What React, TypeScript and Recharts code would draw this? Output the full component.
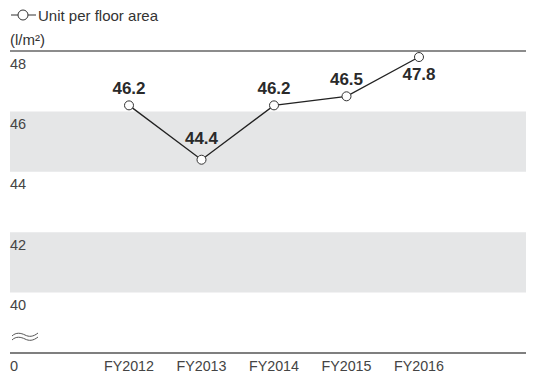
import React from "react";
import { LineChart, Line, XAxis, YAxis, ReferenceArea, ReferenceLine, LabelList } from "recharts";

const categories = ["FY2012", "FY2013", "FY2014", "FY2015", "FY2016"];
const values = [46.2, 44.4, 46.2, 46.5, 47.8];
const yTicks = [38, 40, 42, 44, 46, 48];
const yTickLabels = ["0", "40", "42", "44", "46", "48"];
const bands = [
  [44, 46],
  [40, 42],
];
const seriesName = "Unit per floor area";
const unitLabel = "(l/m\u00b2)";

const data = categories.map((c, i) => ({ pos: i, name: c, value: values[i] }));
const xTicks = categories.map((_, i) => i);

const FONT = "'Liberation Sans', Arial, Helvetica, sans-serif";

const YTick = (props: any) => {
  const { y, payload } = props;
  const idx = yTicks.indexOf(payload.value);
  const label = idx >= 0 ? yTickLabels[idx] : String(payload.value);
  const isZero = idx === 0;
  return (
    <g>
      {isZero && (
        <g fill="none" stroke="#555" strokeWidth={1}>
          <path d={`M12,${y - 17} C16,${y - 21} 21,${y - 20} 25,${y - 18} C29,${y - 16} 33,${y - 16} 38,${y - 20}`} />
          <path d={`M12,${y - 13} C16,${y - 17} 21,${y - 16} 25,${y - 14} C29,${y - 12} 33,${y - 12} 38,${y - 16}`} />
        </g>
      )}
      <text x={10} y={y + 17.5} textAnchor="start" fontSize={14.5} fill="#444" fontFamily={FONT}>
        {label}
      </text>
    </g>
  );
};

const XTick = (props: any) => {
  const { x, y, payload } = props;
  return (
    <text x={x} y={y + 10} textAnchor="middle" fontSize={14.3} fill="#444" fontFamily={FONT}>
      {categories[payload.value]}
    </text>
  );
};

const DataLabel = (props: any) => {
  const { x, y, value, index } = props;
  const last = index === values.length - 1;
  const dy = last ? 23 : index === 1 ? -16 : -11;
  return (
    <text x={x} y={y + dy} textAnchor="middle" fontSize={17} fontWeight="bold" fill="#2a2a2a" fontFamily={FONT}>
      {Number(value).toFixed(1)}
    </text>
  );
};

export default function App() {
  return (
    <div style={{ position: "absolute", left: 0, top: 0, width: 539, height: 374, fontFamily: FONT, background: "#fff" }}>
      <div style={{ position: "absolute", left: 10, top: 5, display: "flex", alignItems: "center", fontSize: 15, color: "#333" }}>
        <svg width={28} height={20} style={{ display: "block" }}>
          <line x1={1} y1={10} x2={26} y2={10} stroke="#333" strokeWidth={1} />
          <circle cx={13} cy={10} r={5} fill="#fff" stroke="#333" strokeWidth={1} />
        </svg>
        <span>{seriesName}</span>
      </div>
      <div style={{ position: "absolute", left: 10, top: 31, fontSize: 15, color: "#333" }}>{unitLabel}</div>
      <LineChart width={539} height={374} data={data} margin={{ top: 51, right: 13, bottom: 0, left: 9 }}>
        {bands.map(([a, b], i) => (
          <ReferenceArea key={i} y1={a} y2={b} fill="#e5e6e7" fillOpacity={1} stroke="none" />
        ))}
        <ReferenceLine y={48} stroke="#666" strokeWidth={1.5} />
        <XAxis
          type="number"
          dataKey="pos"
          domain={[-119 / 72.5, 4 + 107 / 72.5]}
          ticks={xTicks}
          interval={0}
          allowDataOverflow
          height={21}
          axisLine={{ stroke: "#555", strokeWidth: 1.5 }}
          tickLine={false}
          tick={<XTick />}
        />
        <YAxis
          type="number"
          width={1}
          domain={[38, 48]}
          ticks={yTicks}
          interval={0}
          axisLine={false}
          tickLine={false}
          tick={<YTick />}
          allowDataOverflow
        />
        <Line
          dataKey="value"
          stroke="#222"
          strokeWidth={1.3}
          dot={{ r: 4.5, fill: "#fff", stroke: "#333", strokeWidth: 1 }}
          isAnimationActive={false}
        >
          <LabelList dataKey="value" content={<DataLabel />} />
        </Line>
      </LineChart>
    </div>
  );
}
